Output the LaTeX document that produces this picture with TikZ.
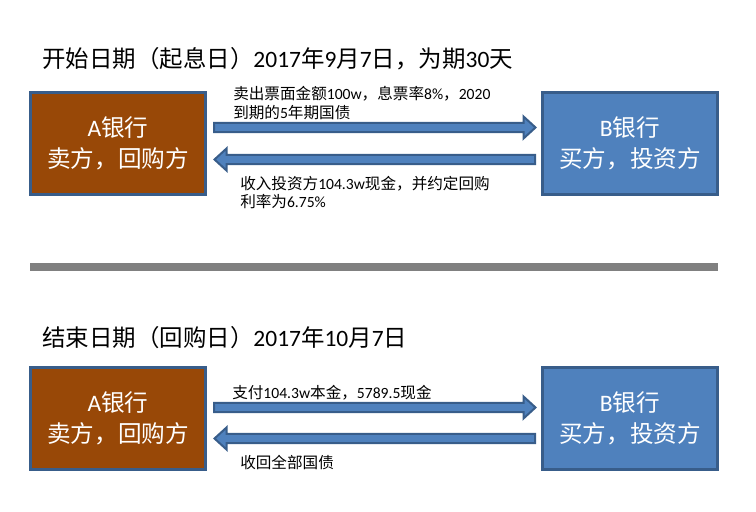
\documentclass[tikz,border=0pt]{standalone}
\usepackage{fontspec}
\setmainfont{Carlito}
\newfontfamily\cjk{Noto Sans CJK SC}
\usetikzlibrary{calc}
\definecolor{brownfill}{HTML}{984807}
\definecolor{bluefill}{HTML}{4F81BD}
\definecolor{bline}{HTML}{385D8A}
\definecolor{barcol}{HTML}{808080}
\begin{document}
\begin{tikzpicture}[x=0.75pt,y=-0.75pt,
  bank/.style={draw=bline, line width=2.25pt, minimum width=131.25pt, minimum height=76.5pt,
    inner sep=0pt, align=center, text=white, font=\fontsize{17.7}{23}\selectfont},
  bankA/.style={bank, fill=brownfill},
  bankB/.style={bank, fill=bluefill},
  titletext/.style={anchor=west, inner sep=0pt, font=\fontsize{17.6}{21}\selectfont},
  notetext/.style={anchor=west, inner sep=0pt, align=left, font=\fontsize{11.7}{13.9}\selectfont},
  blockbase/.style={fill=bluefill, draw=bline, line width=1.5pt, line join=miter},
  rblock/.style={blockbase, to path={let \p1=(\tikztostart), \p2=(\tikztotarget) in
    (\x1,\y1+3.4pt) -- (\x2-9pt,\y1+3.4pt) -- (\x2-9pt,\y1+8.25pt) -- (\x2,\y1)
    -- (\x2-9pt,\y1-8.25pt) -- (\x2-9pt,\y1-3.4pt) -- (\x1,\y1-3.4pt) -- cycle}},
  lblock/.style={blockbase, to path={let \p1=(\tikztostart), \p2=(\tikztotarget) in
    (\x1,\y1+3.4pt) -- (\x2+9pt,\y1+3.4pt) -- (\x2+9pt,\y1+8.25pt) -- (\x2,\y1)
    -- (\x2+9pt,\y1-8.25pt) -- (\x2+9pt,\y1-3.4pt) -- (\x1,\y1-3.4pt) -- cycle}}
]
\useasboundingbox (0,0) rectangle (756,511);

% ---------- panel 1 ----------
\node[titletext] (title1) at (42,59)
  {{\cjk 开始日期（起息日）}2017{\cjk 年}9{\cjk 月}7{\cjk 日，为期}30{\cjk 天}};

\node[bankA] (A1) at (118,143.5) {A{\cjk 银行}\\{\cjk 卖方，回购方}};
\node[bankB] (B1) at (630,143.5) {B{\cjk 银行}\\{\cjk 买方，投资方}};

\coordinate (r1s) at (214,127.5);
\coordinate (r1e) at (535.5,127.5);
\coordinate (l1s) at (535,159.5);
\coordinate (l1e) at (214.5,159.5);
\draw[rblock] (r1s) to (r1e);
\draw[lblock] (l1s) to (l1e);

\node[notetext] (n1) at (233,103)
  {{\cjk 卖出票面金额}100w{\cjk ，息票率}8\%{\cjk ，}2020\\{\cjk 到期的}5{\cjk 年期国债}};
\node[notetext] (n2) at (240,192.5)
  {{\cjk 收入投资方}104.3w{\cjk 现金，并约定回购}\\{\cjk 利率为}6.75\%};

% ---------- separator ----------
\fill[barcol] (30,263) rectangle (718,271);

% ---------- panel 2 ----------
\node[titletext] (title2) at (42,338)
  {{\cjk 结束日期（回购日）}2017{\cjk 年}10{\cjk 月}7{\cjk 日}};

\node[bankA] (A2) at (118,418.5) {A{\cjk 银行}\\{\cjk 卖方，回购方}};
\node[bankB] (B2) at (630,418.5) {B{\cjk 银行}\\{\cjk 买方，投资方}};

\coordinate (r2s) at (214,407.5);
\coordinate (r2e) at (535.5,407.5);
\coordinate (l2s) at (535,438.5);
\coordinate (l2e) at (214.5,438.5);
\draw[rblock] (r2s) to (r2e);
\draw[lblock] (l2s) to (l2e);

\node[notetext] (n3) at (232,393)
  {{\cjk 支付}104.3w{\cjk 本金，}5789.5{\cjk 现金}};
\node[notetext] (n4) at (240,462) {{\cjk 收回全部国债}};
\end{tikzpicture}
\end{document}
